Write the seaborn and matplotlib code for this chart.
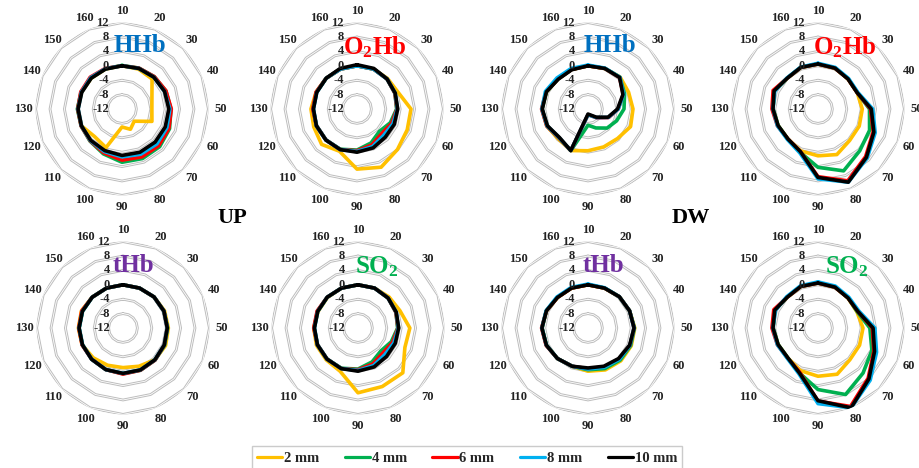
import numpy as np
import pandas as pd
import matplotlib
matplotlib.use("Agg")
import matplotlib.pyplot as plt
from matplotlib.lines import Line2D
import seaborn as sns

# categories (clockwise from top) and radial scale
categories = [10, 20, 30, 40, 50, 60, 70, 80, 90, 100, 110, 120, 130, 140, 150, 160]
r_ticks = [-12, -8, -4, 0, 4, 8, 12]
series_names = ["2 mm", "4 mm", "6 mm", "8 mm", "10 mm"]
series_colors = ["#FFC000", "#00B050", "#FF0000", "#00B0F0", "#000000"]

# UP - HHb
up_hhb_2 = [0, 0, -0.2, -3.0, -3.7, -3.0, -7.2, -5.9, -7.0, -0.4, -1.2, 0.2, 0.3, 0.2, 0.1, 0]
up_hhb_4 = [0.1, 0.3, 0.7, 1.2, 1.6, 2.3, 2.8, 2.9, 2.8, 1.5, 0.6, 0.3, 0.4, 0.3, 0.2, 0.1]
up_hhb_6 = [0, 0.3, 0.7, 1.2, 1.7, 2.1, 2.4, 2.4, 2.2, 1.2, 0.5, 0.3, 0.3, 0.4, 0.5, 0.2]
up_hhb_8 = [0, 0.2, 0.5, 0.8, 1.3, 1.5, 1.7, 1.6, 1.3, 0.8, 0.4, 0.2, 0.2, 0.2, 0.3, 0.1]
up_hhb_10 = [0, 0.2, 0.5, 0.8, 1.0, 1.0, 1.0, 1.0, 0.9, 0.5, 0.3, 0.2, 0.2, 0.1, 0.1, 0]

# UP - O2Hb
up_o2hb_2 = [0, 0, 0, 0.3, 3.0, 3.1, 3.9, 5.5, 4.7, 0.7, 1.9, 1.0, 0.8, 0.3, 0.1, 0]
up_o2hb_4 = [0, 0, -0.2, -0.6, -1.0, -2.0, -3.2, -1.8, -0.6, 0.1, 0.2, 0.2, 0.2, 0.2, 0.1, 0]
up_o2hb_6 = [0, 0, -0.2, -0.6, -0.9, -1.6, -2.3, -1.2, -0.4, 0.2, 0.2, 0.2, 0.3, 0.3, 0.1, 0]
up_o2hb_8 = [0, 0, -0.2, -0.5, -0.8, -1.2, -1.6, -0.7, -0.2, 0.2, 0.2, 0.2, 0.1, 0.1, 0.1, 0]
up_o2hb_10 = [0.3, 0.2, -0.2, -0.5, -0.7, -0.8, -0.9, -0.3, 0, 0.2, 0.2, 0.2, 0.1, 0.1, 0.1, 0.2]

# DW - HHb
dw_hhb_2 = [0, 0.2, 0.6, 0.2, 0.5, 0.8, -0.4, -0.6, -0.4, 0.5, -0.3, 0.4, 0.8, 0.5, -0.2, -0.1]
dw_hhb_4 = [0, 0.2, 0.5, -1.0, -2.0, -3.4, -4.5, -6.3, -7.5, 0.5, -0.6, 0.3, 0.8, 0.5, -0.2, -0.1]
dw_hhb_6 = [0, 0.2, 0.4, -1.4, -3.6, -5.8, -8.5, -10.0, -10.4, 0.5, -0.6, 0.4, 0.9, 0.6, -0.2, -0.1]
dw_hhb_8 = [0.2, 0.3, 0.5, -1.3, -3.6, -5.9, -8.6, -10.0, -10.4, 0.5, -0.7, 0.3, 0.8, 0.8, 0.2, 0.2]
dw_hhb_10 = [0, 0.2, 0.4, -1.5, -3.8, -6.0, -8.8, -10.2, -10.6, 0.5, -0.8, 0.2, 0.7, 0.5, -0.3, -0.2]

# DW - O2Hb
dw_o2hb_2 = [0.5, 0.3, -0.2, -0.2, 0.3, 0.4, 0.4, 1.7, 1.0, 0.6, -0.2, 0.0, 0.5, 1.2, 0.1, 0.5]
dw_o2hb_4 = [0.5, 0.3, -0.2, -0.2, 2.3, 3.5, 4.4, 6.6, 4.2, 1.0, -0.2, 0.0, 0.5, 1.2, 0.1, 0.5]
dw_o2hb_6 = [0.5, 0.3, -0.2, -0.2, 2.6, 4.6, 6.7, 9.6, 6.8, 0.8, -0.2, 0.2, 0.8, 1.5, 0.1, 0.5]
dw_o2hb_8 = [0.7, 0.5, 0.0, 0.0, 3.2, 5.2, 7.3, 10.0, 7.4, 1.2, 0.0, 0.2, 0.5, 1.0, 0.2, 0.6]
dw_o2hb_10 = [0.5, 0.3, -0.2, -0.2, 2.8, 4.8, 7.0, 10.0, 7.0, 0.8, -0.2, 0.0, 0.5, 1.2, 0.1, 0.5]

# UP - tHb
up_thb_2 = [0, 0, 0.2, 0.5, 0.6, 0.8, 0.5, -0.5, -1.0, -0.8, -0.3, 0.3, 0.4, 0.5, 0.1, 0]
up_thb_4 = [0, 0, 0.2, 0.3, 0.4, 0.5, 0.6, 0.7, 0.7, 0.5, 0.3, 0.2, 0.2, 0.2, 0.1, 0]
up_thb_6 = [0, 0, 0.2, 0.3, 0.3, 0.4, 0.6, 0.7, 0.8, 0.5, 0.3, 0.3, 0.3, 0.4, 0.1, 0]
up_thb_8 = [0, 0, 0.2, 0.3, 0.3, 0.4, 0.5, 0.6, 0.6, 0.5, 0.3, 0.2, 0.2, 0.2, 0.1, 0]
up_thb_10 = [0, 0, 0.2, 0.3, 0.3, 0.4, 0.5, 0.6, 0.6, 0.5, 0.3, 0.2, 0.2, 0.2, 0.1, 0]

# UP - SO2
up_so2_2 = [0, 0, 0.2, 0.6, 2.4, 2.1, 5.6, 5.6, 6.0, 1.0, 0.5, 0.5, 0.3, 0, 0, 0]
up_so2_4 = [0, 0, -0.2, -0.6, -1.0, -2.0, -3.0, -1.8, -0.6, 0.1, 0.2, 0.2, 0.2, 0.2, 0.1, 0]
up_so2_6 = [0, 0, -0.2, -0.6, -0.9, -1.6, -2.2, -1.2, -0.4, 0.2, 0.2, 0.2, 0.3, 0.3, 0.1, 0]
up_so2_8 = [0, 0, -0.2, -0.5, -0.8, -1.2, -1.5, -0.7, -0.2, 0.2, 0.2, 0.2, 0.1, 0.1, 0.1, 0]
up_so2_10 = [0, 0, -0.2, -0.5, -0.7, -0.8, -0.8, -0.3, 0, 0.2, 0.2, 0.2, 0.1, 0.1, 0.1, 0]

# DW - tHb
dw_thb_2 = [0, 0, 0.3, 0.5, 1.0, 1.0, 0.9, 0.6, 0, -0.5, 0, 0.5, 0.8, 0.5, 0, 0]
dw_thb_4 = [0, 0, 0.3, 0.5, 0.9, 0.8, 0.6, 0.2, -0.4, -0.5, 0, 0.5, 0.8, 0.5, 0, 0]
dw_thb_6 = [0, 0, 0.3, 0.5, 0.8, 0.6, 0.2, -0.3, -0.7, -0.5, 0, 0.6, 0.9, 0.5, 0, 0]
dw_thb_8 = [0.2, 0.1, 0.3, 0.5, 0.8, 0.6, 0.3, -0.2, -0.6, -0.5, 0, 0.5, 0.8, 0.6, 0.2, 0.2]
dw_thb_10 = [0, 0, 0.3, 0.5, 0.8, 0.5, 0, -0.5, -0.9, -0.5, 0, 0.5, 0.8, 0.5, 0, 0]

# DW - SO2
dw_so2_2 = [0.5, 0.3, -0.2, -0.3, 0.5, 0.5, 0.5, 1.9, 1.4, 0.8, -0.2, 0.0, 0.5, 1.0, 0.1, 0.5]
dw_so2_4 = [0.5, 0.3, -0.2, -0.2, 2.4, 4.2, 5.7, 8.0, 5.1, 1.5, -0.2, 0.0, 0.5, 1.0, 0.1, 0.5]
dw_so2_6 = [0.5, 0.3, -0.2, 0.0, 3.1, 4.8, 7.7, 11.6, 8.3, 1.3, -0.1, 0.2, 0.8, 1.3, 0.1, 0.5]
dw_so2_8 = [0.8, 0.6, 0.1, 0.3, 3.8, 5.6, 8.5, 12.0, 9.0, 1.8, 0.0, 0.2, 0.5, 0.8, 0.3, 0.7]
dw_so2_10 = [0.5, 0.3, -0.2, 0.0, 3.3, 5.0, 8.0, 12.0, 8.2, 1.5, -0.2, 0.0, 0.5, 1.0, 0.1, 0.5]

panels = [
    ("HHb", "#0070C0", [up_hhb_2, up_hhb_4, up_hhb_6, up_hhb_8, up_hhb_10]),
    ("O$_2$Hb", "#FF0000", [up_o2hb_2, up_o2hb_4, up_o2hb_6, up_o2hb_8, up_o2hb_10]),
    ("HHb", "#0070C0", [dw_hhb_2, dw_hhb_4, dw_hhb_6, dw_hhb_8, dw_hhb_10]),
    ("O$_2$Hb", "#FF0000", [dw_o2hb_2, dw_o2hb_4, dw_o2hb_6, dw_o2hb_8, dw_o2hb_10]),
    ("tHb", "#7030A0", [up_thb_2, up_thb_4, up_thb_6, up_thb_8, up_thb_10]),
    ("SO$_2$", "#00B050", [up_so2_2, up_so2_4, up_so2_6, up_so2_8, up_so2_10]),
    ("tHb", "#7030A0", [dw_thb_2, dw_thb_4, dw_thb_6, dw_thb_8, dw_thb_10]),
    ("SO$_2$", "#00B050", [dw_so2_2, dw_so2_4, dw_so2_6, dw_so2_8, dw_so2_10]),
]

# panel centres in pixels (x from left, y from top)
centres = [(122, 109), (357, 109), (588, 109), (818, 109),
           (123, 328), (358, 328), (588, 328), (818, 328)]
title_pos = [(140, 45), (375, 47), (610, 45), (845, 47),
             (133, 265), (377, 267), (603, 265), (847, 267)]

sns.set_theme(style="white")
plt.rcParams["font.family"] = ["Liberation Serif", "DejaVu Serif"]
plt.rcParams["mathtext.default"] = "regular"

W, H = 920, 468
R = 86.4  # outer radius in px
fig = plt.figure(figsize=(W / 100, H / 100), dpi=100)

theta = np.deg2rad(np.arange(16) * 22.5)
theta_closed = np.append(theta, 2 * np.pi)
poly = np.linspace(0, 2 * np.pi, 17)

for (title, tcolor, data), (cx, cy), (tx, ty) in zip(panels, centres, title_pos):
    ax = fig.add_axes([(cx - R) / W, 1 - (cy + R) / H, 2 * R / W, 2 * R / H],
                      projection="polar")
    ax.set_theta_zero_location("N")
    ax.set_theta_direction(-1)
    ax.set_ylim(-12, 12)
    ax.grid(False)
    ax.spines["polar"].set_visible(False)
    ax.set_yticks([])
    ax.set_xticks([])
    ax.set_facecolor("none")

    # polygon gridlines
    for v in r_ticks[1:]:
        ax.plot(poly, [v] * 17, color="#BDBDBD", lw=2.0, zorder=1)
        ax.plot(poly, [v] * 17, color="white", lw=0.6, zorder=1)

    rows = []
    for name, vals in zip(series_names, data):
        vv = list(vals) + [vals[0]]
        for t, v in zip(theta_closed, vv):
            rows.append({"theta": t, "value": v, "series": name})
    df = pd.DataFrame(rows)
    sns.lineplot(data=df, x="theta", y="value", hue="series",
                 hue_order=series_names, palette=series_colors,
                 sort=False, estimator=None, lw=2.6, legend=False, ax=ax, zorder=3)
    ax.set_xlabel("")
    ax.set_ylabel("")

    # category labels around the outside
    for t, c in zip(theta, categories):
        ax.text(t, 15.3, str(c), ha="center", va="center", fontsize=9,
                fontweight="bold", color="#222222", clip_on=False)

    # value labels along the top spoke
    for v in r_ticks:
        ax.annotate(str(v), xy=(0, v), xytext=(-13, 0), textcoords="offset pixels",
                    ha="right", va="center", fontsize=9, fontweight="bold",
                    color="#222222", zorder=4)

    fig.text(tx / W, 1 - ty / H, title, color=tcolor, fontsize=18,
             fontweight="bold", ha="center", va="center")

fig.text(232 / W, 1 - 218 / H, "UP", fontsize=16, fontweight="bold",
         ha="center", va="center", color="black")
fig.text(691 / W, 1 - 218 / H, "DW", fontsize=16, fontweight="bold",
         ha="center", va="center", color="black")

handles = [Line2D([0], [0], color=c, lw=2.3) for c in series_colors]
leg = fig.legend(handles, series_names, loc="upper center",
                 bbox_to_anchor=(467 / W, 1 - 439 / H), ncol=5, frameon=True,
                 fancybox=False, handlelength=1.75,
                 handletextpad=0.1, columnspacing=1.75, borderpad=0.35,
                 prop={"weight": "bold", "size": 10.5})
leg.get_frame().set_edgecolor("#BFBFBF")
leg.get_frame().set_linewidth(1.0)

fig.savefig("out.png", dpi=100)
